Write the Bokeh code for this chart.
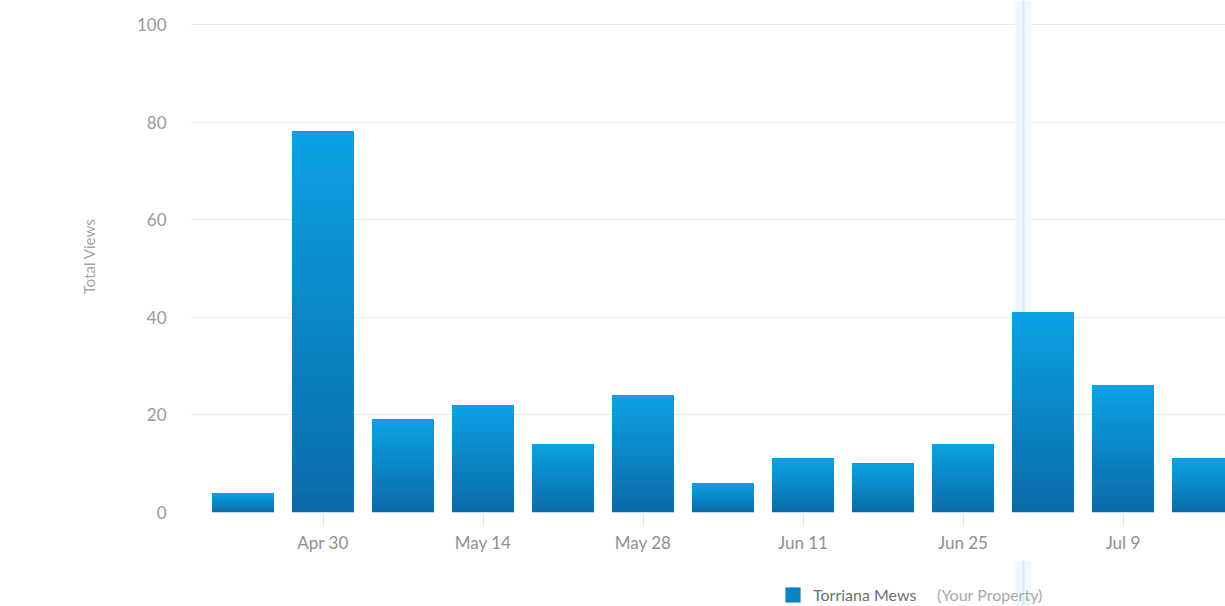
import numpy as np
from bokeh.plotting import figure
from bokeh.layouts import column
from bokeh.models import (ColumnDataSource, Range1d, FixedTicker, DatetimeTickFormatter,
                          Span, Legend, LegendItem)
from bokeh.embed import file_html
from bokeh.resources import INLINE

# ---------------- data ----------------
week_starts = ["2018-04-23", "2018-04-30", "2018-05-07", "2018-05-14", "2018-05-21",
               "2018-05-28", "2018-06-04", "2018-06-11", "2018-06-18", "2018-06-25",
               "2018-07-02", "2018-07-09", "2018-07-16"]
total_views = [4, 78, 19, 22, 14, 24, 6, 11, 10, 14, 41, 26, 11]
x_tick_dates = ["2018-04-30", "2018-05-14", "2018-05-28", "2018-06-11", "2018-06-25", "2018-07-09"]
y_ticks = [0, 20, 40, 60, 80, 100]
series_name = "Torriana Mews"
series_note = "(Your Property)"
y_title = "Total Views"

# ---------------- layout / style ----------------
W, H = 1225, 606
LEG_H = 46
MAIN_H = H - LEG_H
LEFT = 190
FRAME_H = 512
PX_PER_UNIT = 4.88            # pixels per view
PX_PER_DAY = 80.0 / 7.0
DAY_MS = 86400000.0
FONT = "Lato"
BAR_TOP = np.array([0x0b, 0xa2, 0xe6])
BAR_BOTTOM = np.array([0x0a, 0x6c, 0xa8])
BAR_MID = "#%02x%02x%02x" % tuple(int(t) for t in (BAR_TOP * 0.45 + BAR_BOTTOM * 0.55))
CROSS_PX = 1023


def to_ms(s):
    return float(np.datetime64(s, "ms").astype("int64"))


anchor = to_ms(week_starts[1])
anchor_px = 322.5 - LEFT


def px_to_x(px):
    return anchor + (px - LEFT - anchor_px) / PX_PER_DAY * DAY_MS


x_start = px_to_x(LEFT)
x_end = px_to_x(W)
y_end = FRAME_H / PX_PER_UNIT

p = figure(width=W, height=MAIN_H, x_axis_type="datetime",
           x_range=Range1d(x_start, x_end), y_range=Range1d(0, y_end),
           output_backend="svg", toolbar_location=None,
           min_border_left=LEFT, min_border_right=0, min_border_top=0,
           min_border_bottom=MAIN_H - FRAME_H)
p.outline_line_color = None
p.background_fill_color = "white"
p.border_fill_color = "white"

# crosshair (hover marker), behind the bars
cross_x = px_to_x(CROSS_PX)
p.add_layout(Span(location=cross_x, dimension="height", line_color="#f0f8fc",
                  line_width=16, level="underlay"))
p.add_layout(Span(location=cross_x, dimension="height", line_color="#d4ebf6",
                  line_width=2, level="underlay"))

# gradient bars: layered quads from each fraction up to the top
N = 40
xs, bots, tops, cols = [], [], [], []
for d, v in zip(week_starts, total_views):
    for k in range(N):
        f = k / N
        c = BAR_BOTTOM + (BAR_TOP - BAR_BOTTOM) * f
        xs.append(to_ms(d))
        bots.append(v * f)
        tops.append(v)
        cols.append("#%02x%02x%02x" % tuple(int(round(t)) for t in c))
src = ColumnDataSource(dict(x=xs, bottom=bots, top=tops, color=cols))
bar_w = 62 / PX_PER_DAY * DAY_MS
p.vbar(x="x", bottom="bottom", top="top", width=bar_w, source=src,
       fill_color="color", line_color=None)

# axes
p.yaxis.ticker = FixedTicker(ticks=y_ticks)
p.yaxis.axis_line_color = None
p.yaxis.major_tick_line_color = None
p.yaxis.major_tick_out = 0
p.yaxis.major_tick_in = 0
p.yaxis.minor_tick_line_color = None
p.yaxis.major_label_standoff = 24
p.yaxis.major_label_text_font = FONT
p.yaxis.major_label_text_font_size = "17px"
p.yaxis.major_label_text_color = "#9a9a9a"
p.yaxis.axis_label = y_title
p.yaxis.axis_label_text_font = FONT
p.yaxis.axis_label_text_font_size = "15px"
p.yaxis.axis_label_text_font_style = "normal"
p.yaxis.axis_label_text_color = "#a5a5a5"
p.yaxis.axis_label_standoff = 36

p.xaxis.ticker = FixedTicker(ticks=[to_ms(d) for d in x_tick_dates])
p.xaxis.formatter = DatetimeTickFormatter(days="%b %-d", months="%b %-d")
p.xaxis.axis_line_color = None
p.xaxis.major_tick_line_color = "#e6e6e6"
p.xaxis.major_tick_in = 0
p.xaxis.major_tick_out = 14
p.xaxis.minor_tick_line_color = None
p.xaxis.major_label_standoff = 5
p.xaxis.major_label_text_font = FONT
p.xaxis.major_label_text_font_size = "17px"
p.xaxis.major_label_text_color = "#8f8f8f"

p.xgrid.grid_line_color = None
p.ygrid.grid_line_color = "#ececec"
p.ygrid.grid_line_width = 1

# ---------------- legend strip (separate figure below, frame aligned with main) ----------------
lg = figure(width=W, height=LEG_H, x_range=Range1d(LEFT, W), y_range=Range1d(0, LEG_H),
            output_backend="svg", toolbar_location=None,
            x_axis_location=None, y_axis_location=None,
            min_border_left=LEFT, min_border_right=0, min_border_top=0, min_border_bottom=0)
lg.outline_line_color = None
lg.xgrid.visible = False
lg.ygrid.visible = False
lg.add_layout(Span(location=CROSS_PX, dimension="height", line_color="#f0f8fc",
                   line_width=16, level="underlay"))
lg.add_layout(Span(location=CROSS_PX, dimension="height", line_color="#d4ebf6",
                   line_width=2, level="underlay"))
# legend proxies: kept outside the visible strip, only their styles are used
swatch = lg.vbar(x=[0], top=[0], width=1, fill_color=BAR_MID, line_color=None)
blank = lg.scatter(x=[0], y=[0], size=0, fill_alpha=0, line_alpha=0)

common = dict(orientation="horizontal", padding=0, margin=0, spacing=0,
              border_line_color=None, background_fill_alpha=0,
              label_height=19, label_text_font=FONT, label_text_font_size="16px",
              label_text_baseline="middle")
legend1 = Legend(items=[LegendItem(label=series_name, renderers=[swatch], index=0)],
                 location=(783 - LEFT, 2), glyph_width=19, glyph_height=19, label_standoff=11,
                 label_text_color="#6f6f6f", **common)
legend2 = Legend(items=[LegendItem(label=series_note, renderers=[blank], index=0)],
                 location=(937 - LEFT, 2), glyph_width=0, glyph_height=19, label_standoff=0,
                 label_text_color="#a8a8a8", **common)
lg.add_layout(legend1, "center")
lg.add_layout(legend2, "center")

layout = column(p, lg, spacing=0)
open("out.html", "w").write(file_html(layout, INLINE))
